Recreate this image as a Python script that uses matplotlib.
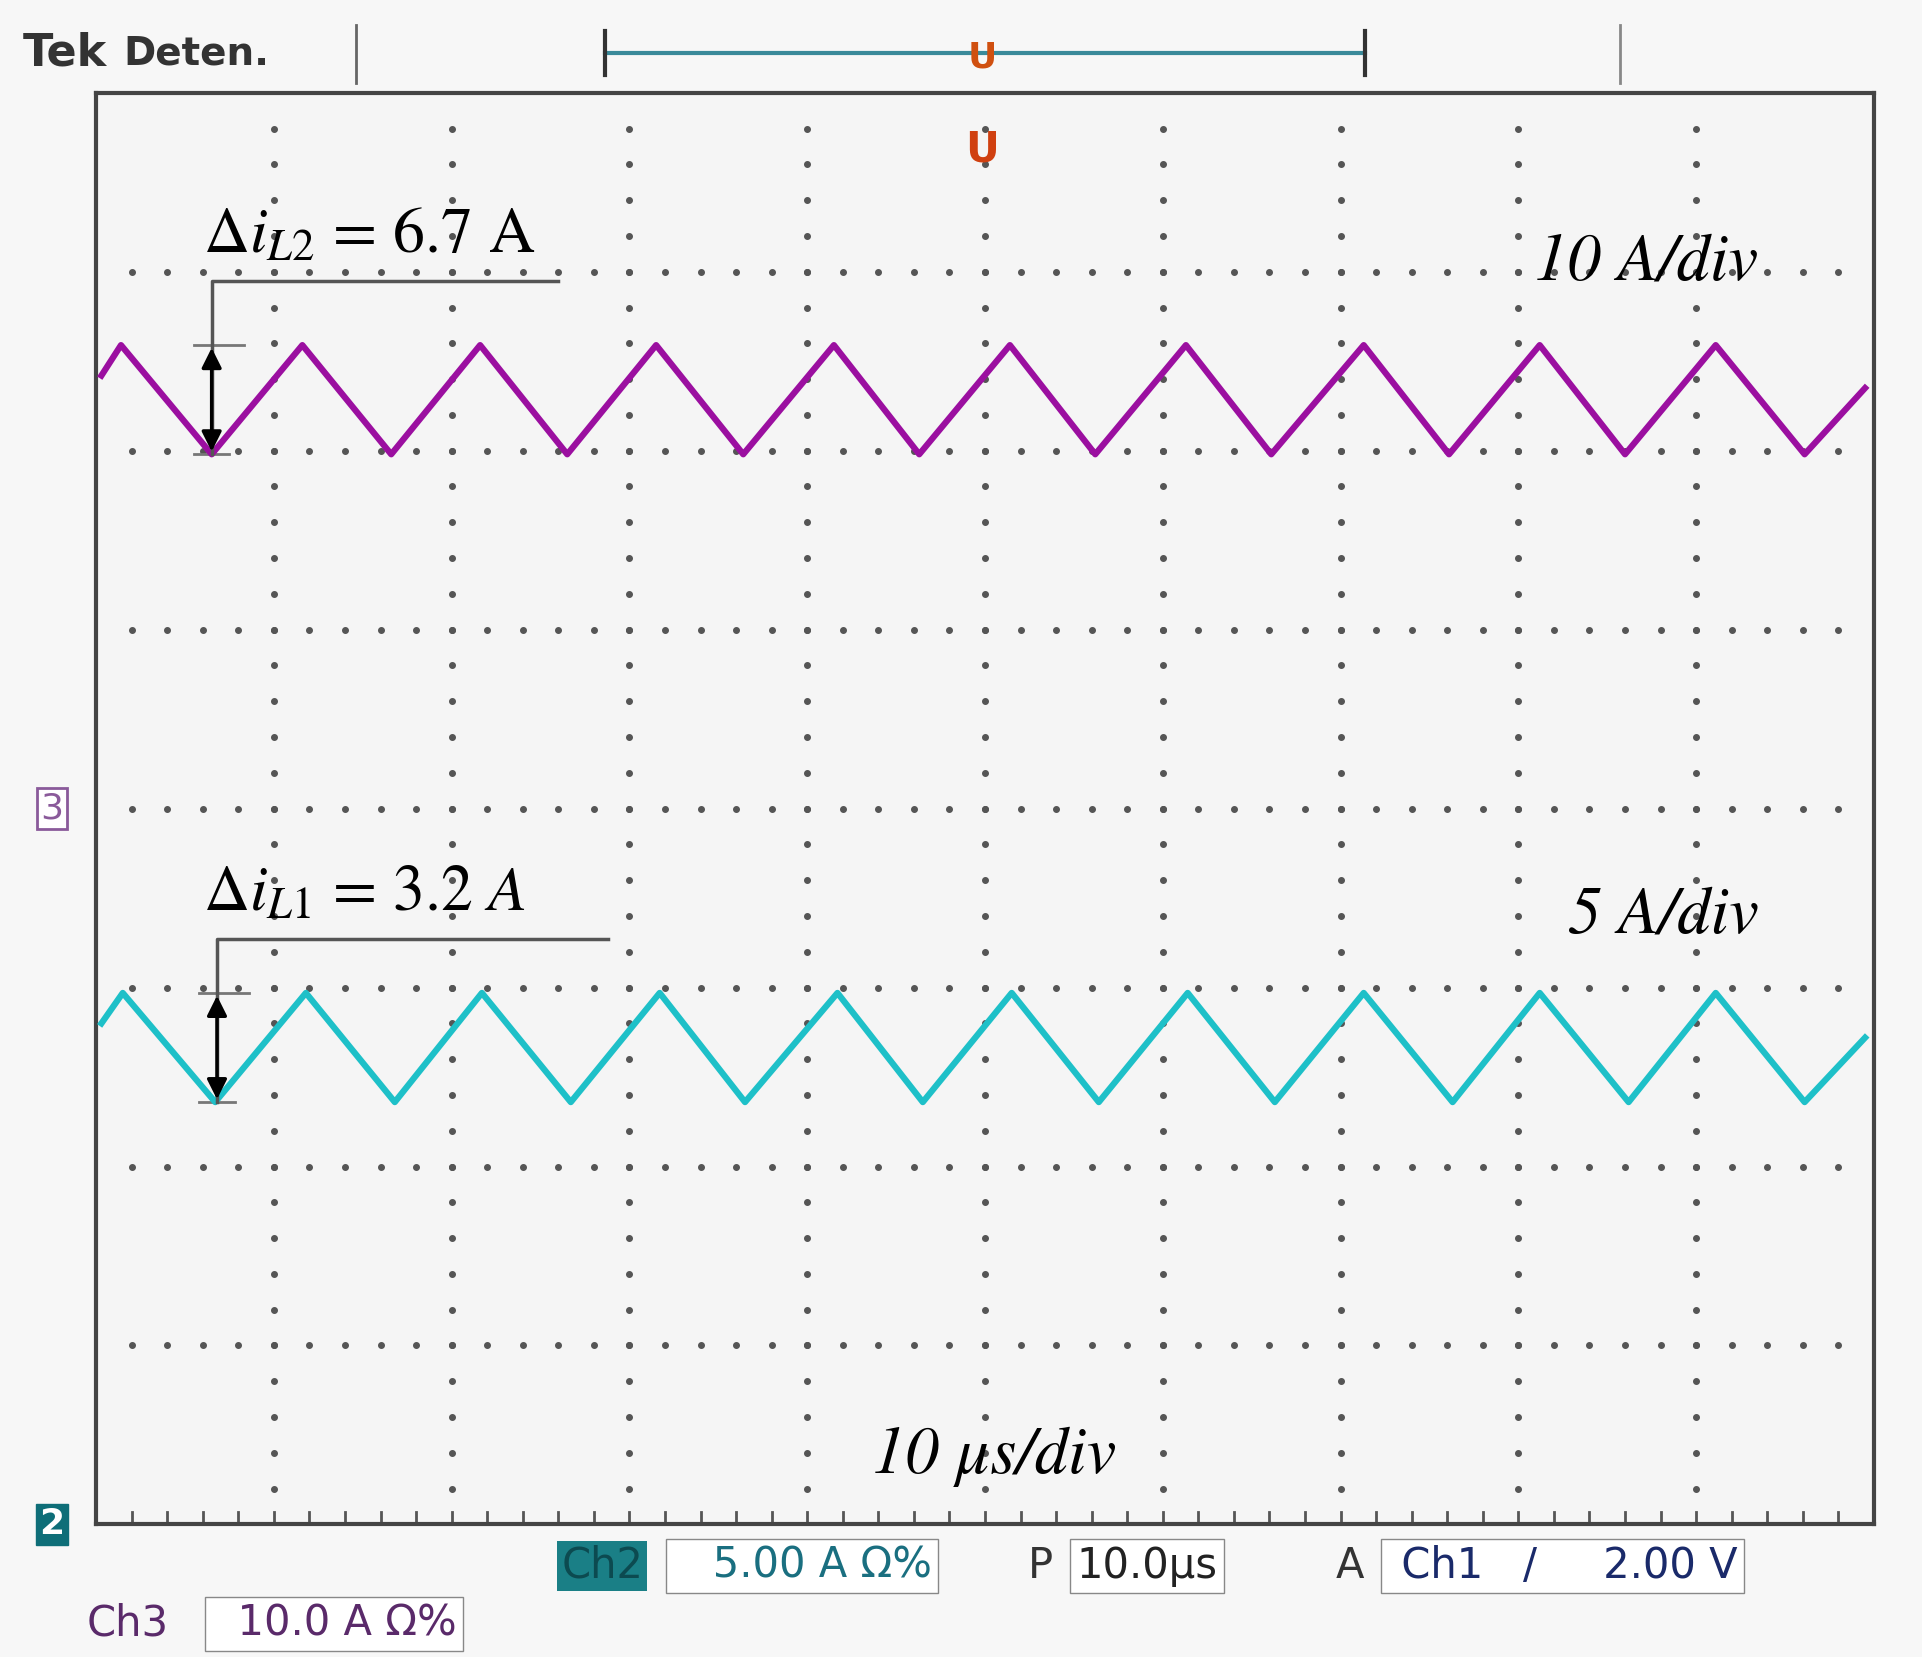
import numpy as np
import matplotlib.pyplot as plt

plt.rcParams['mathtext.fontset'] = 'stix'

# waveform vertices, x in divisions (10 us/div), y in divisions from bottom
ch3_x = [0.03, 0.14, 0.65, 1.16, 1.66, 2.16, 2.65, 3.15, 3.64, 4.15, 4.63, 5.14,
         5.62, 6.13, 6.61, 7.13, 7.61, 8.12, 8.60, 9.11, 9.61, 9.95]
ch3_y = [6.42, 6.59, 5.98, 6.59, 5.98, 6.59, 5.98, 6.59, 5.98, 6.59, 5.98, 6.59,
         5.98, 6.59, 5.98, 6.59, 5.98, 6.59, 5.98, 6.59, 5.98, 6.35]
ch2_x = [0.03, 0.15, 0.67, 1.18, 1.68, 2.17, 2.67, 3.17, 3.65, 4.17, 4.65, 5.15,
         5.64, 6.14, 6.63, 7.13, 7.63, 8.12, 8.62, 9.11, 9.61, 9.95]
ch2_y = [2.80, 2.97, 2.36, 2.97, 2.36, 2.97, 2.36, 2.97, 2.36, 2.97, 2.36, 2.97,
         2.36, 2.97, 2.36, 2.97, 2.36, 2.97, 2.36, 2.97, 2.36, 2.72]

fig = plt.figure(figsize=(19.22, 16.57), dpi=100)
fig.patch.set_facecolor('#f7f7f7')
ax = fig.add_axes([0.05, 0.080, 0.925, 0.864])
ax.set_xlim(0, 10)
ax.set_ylim(0, 8)
ax.set_facecolor('#f5f5f5')
ax.set_xticks([]); ax.set_yticks([])
for s in ax.spines.values():
    s.set_linewidth(3); s.set_color('#444444')

# dotted graticule
dot = '#555555'
for gx in range(1, 10):
    ys = np.arange(0.2, 8, 0.2)
    ax.scatter(np.full(len(ys), gx), ys, s=16, color=dot, zorder=1)
for gy in range(1, 8):
    xs = np.arange(0.2, 10, 0.2)
    ax.scatter(xs, np.full(len(xs), gy), s=16, color=dot, zorder=1)
# ruler ticks along the bottom edge
for t in np.arange(0.2, 10, 0.2):
    ax.plot([t, t], [0, 0.07], color=dot, lw=2)

ax.plot(ch3_x, ch3_y, color='#9b0fa0', lw=4.5, zorder=3)
ax.plot(ch2_x, ch2_y, color='#1ec0c8', lw=4.5, zorder=3)

# ripple annotations
def ripple(x, ylo, yhi, ytxt, xend, label):
    ax.plot([x, x, xend], [ylo, ytxt, ytxt], color='#555555', lw=2.5, zorder=4)
    ax.annotate('', xy=(x, ylo), xytext=(x, yhi),
                arrowprops=dict(arrowstyle='<|-|>', color='black', lw=2.5,
                                mutation_scale=30), zorder=5)
    ax.plot([x - 0.1, x + 0.18], [yhi, yhi], color='#777777', lw=2)
    ax.plot([x - 0.1, x + 0.1], [ylo, ylo], color='#777777', lw=2)
    ax.text(0.6, ytxt + 0.08, label, fontsize=46, family='STIXGeneral',
            va='bottom', ha='left')

ripple(0.65, 5.98, 6.59, 6.95, 2.6, r'$\Delta i_{L2}$ = 6.7 A')
ripple(0.68, 2.36, 2.97, 3.27, 2.88, r'$\Delta i_{L1}$ = $\it{3.2\ A}$')

ax.text(9.35, 7.05, '10 A/div', fontsize=48, style='italic',
        family='STIXGeneral', ha='right', va='center')
ax.text(9.35, 3.4, '5 A/div', fontsize=48, style='italic',
        family='STIXGeneral', ha='right', va='center')
ax.text(5.05, 0.38, '10 \u03bcs/div', fontsize=48, style='italic',
        family='STIXGeneral', ha='center', va='center')

# top status bar
fig.text(0.012, 0.968, 'Tek', fontsize=32, weight='bold', color='#333333', va='center')
fig.text(0.064, 0.968, 'Deten.', fontsize=28, weight='bold', color='#333333', va='center')
fig.add_artist(plt.Line2D([0.185, 0.185], [0.95, 0.985], color='#666666', lw=2))
fig.add_artist(plt.Line2D([0.843, 0.843], [0.95, 0.985], color='#888888', lw=2))
fig.add_artist(plt.Line2D([0.315, 0.71], [0.968, 0.968], color='#3a8a9a', lw=3))
fig.add_artist(plt.Line2D([0.315, 0.315], [0.955, 0.981], color='#333333', lw=3))
fig.add_artist(plt.Line2D([0.71, 0.71], [0.955, 0.981], color='#333333', lw=3))
fig.text(0.511, 0.965, 'U', fontsize=26, color='#d05010', weight='bold', ha='center', va='center')
fig.text(0.511, 0.91, 'U', fontsize=30, color='#d04010', weight='bold', ha='center', va='center')

# channel markers on the left
fig.text(0.027, 0.512, '3', fontsize=26, color='#8a5a9a', ha='center', va='center',
         bbox=dict(boxstyle='square,pad=0.1', fc='white', ec='#8a5a9a', lw=2))
fig.text(0.027, 0.080, '2', fontsize=26, color='white', weight='bold', ha='center',
         va='center', bbox=dict(boxstyle='square,pad=0.1', fc='#0e6e78', ec='#0e6e78'))

# bottom readout
fy = 0.055
fig.text(0.292, fy, 'Ch2', fontsize=30, color='#0c4a50', va='center',
         bbox=dict(boxstyle='square,pad=0.1', fc='#1a7f86', ec='none'))
fig.text(0.35, fy, '   5.00 A \u03a9%', fontsize=30, color='#1a6f80', va='center',
         bbox=dict(boxstyle='square,pad=0.15', fc='white', ec='#888888'))
fig.text(0.535, fy, 'P', fontsize=30, color='#333333', va='center')
fig.text(0.56, fy, '10.0\u03bcs', fontsize=30, color='#222222', va='center',
         bbox=dict(boxstyle='square,pad=0.15', fc='white', ec='#888888'))
fig.text(0.695, fy, 'A', fontsize=30, color='#333333', va='center')
fig.text(0.722, fy, ' Ch1   /     2.00 V', fontsize=30,
         color='#1a2a6a', va='center',
         bbox=dict(boxstyle='square,pad=0.15', fc='white', ec='#888888'))
fig.text(0.045, 0.02, 'Ch3', fontsize=30, color='#5a2a6a', va='center')
fig.text(0.11, 0.02, '  10.0 A \u03a9%', fontsize=30, color='#5a2a6a', va='center',
         bbox=dict(boxstyle='square,pad=0.15', fc='white', ec='#888888'))

fig.savefig('out.png', dpi=100, facecolor=fig.get_facecolor())
